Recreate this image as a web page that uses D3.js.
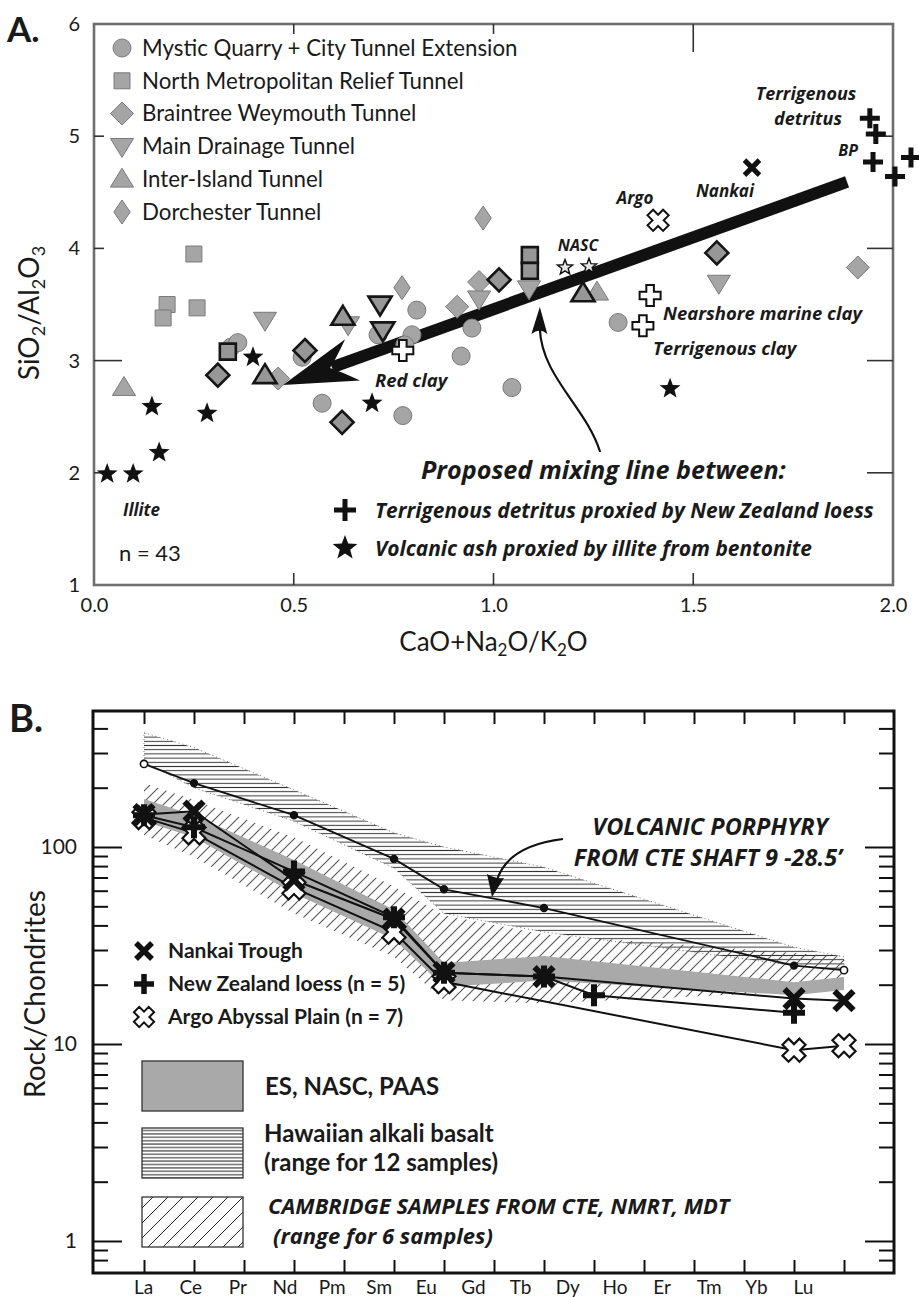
<!DOCTYPE html>
<html>
<head>
<meta charset="utf-8">
<script src="https://cdn.jsdelivr.net/npm/d3@7"></script>
<style>
  body { margin: 0; background: #fff; }
  text { font-family: Lato, "Open Sans", sans-serif; fill: #1a1a1a; }
  text.bi { font-family: "Open Sans", Lato, sans-serif; font-weight: bold; font-style: italic; }
</style>
</head>
<body>
<script>
// ---------- Panel A: [CaO+Na2O/K2O, SiO2/Al2O3] ----------
const mysticQuarry = [[0.343,3.12],[0.360,3.16],[0.521,3.03],[0.571,2.62],[0.711,3.23],[0.808,3.45],
  [0.773,2.51],[0.796,3.23],[0.778,3.14],[0.919,3.04],[0.946,3.29],[1.046,2.76],[1.312,3.34]];
const northMetro = [[0.250,3.95],[0.183,3.50],[0.173,3.38],[0.258,3.47]];
const northMetroOutlined = [[0.335,3.08],[1.091,3.94],[1.091,3.80]];
const braintree = [[0.461,2.84],[0.909,3.48],[0.964,3.70],[1.912,3.83]];
const braintreeOutlined = [[0.310,2.87],[0.528,3.09],[0.621,2.45],[1.014,3.72],[1.559,3.96]];
const mainDrainage = [[0.428,3.36],[0.636,3.32],[0.964,3.55],[1.089,3.64],[1.564,3.69]];
const mainDrainageOutlined = [[0.716,3.50],[0.723,3.27]];
const interIsland = [[0.075,2.76],[1.259,3.61]];
const interIslandOutlined = [[0.623,3.39],[0.428,2.87],[1.224,3.60]];
const dorchester = [[0.771,3.65],[0.974,4.27]];
const illiteAsh = [[0.033,1.99],[0.098,1.99],[0.163,2.18],[0.145,2.59],[0.283,2.53],[0.398,3.03],[0.696,2.62],[1.442,2.75]];
const nzLoessA = [[1.942,5.16],[1.957,5.02],[1.950,4.77],[2.005,4.64],[2.045,4.81]];
const nascA = [[1.179,3.83],[1.239,3.84]];
const clays = [[1.392,3.58],[1.374,3.31],[0.773,3.09]];
const nankaiA = [[1.647,4.72]];
const argoA = [[1.412,4.25]];
const mixingLine = [[1.885,4.592],[0.473,2.783]];
const siteNames = ["Mystic Quarry + City Tunnel Extension","North Metropolitan Relief Tunnel",
  "Braintree Weymouth Tunnel","Main Drainage Tunnel","Inter-Island Tunnel","Dorchester Tunnel"];
const xTicksA = [0, 0.5, 1, 1.5, 2];
const yTicksA = [1, 2, 3, 4, 5, 6];

// ---------- Panel B: rock / chondrite ----------
const ree = ["La","Ce","Pr","Nd","Pm","Sm","Eu","Gd","Tb","Dy","Ho","Er","Tm","Yb","Lu"];
const porphyry = [["La",264],["Ce",211],["Nd",145],["Sm",87],["Eu",61],["Tb",49],["Yb",25],["Lu",23.7]];
const nankai = [["La",146],["Ce",152],["Nd",68],["Sm",43],["Eu",23],["Tb",22],["Yb",17],["Lu",16.6]];
const nzLoess = [["La",145],["Ce",126],["Nd",75],["Sm",44],["Eu",23],["Tb",22],["Dy",17.7],["Yb",14.4]];
const argo = [["La",141],["Ce",118],["Nd",62],["Sm",37],["Eu",20.7],["Yb",9.3],["Lu",9.8]];
// [element, low, high]
const shaleBand = [["La",135,175],["Ce",112,145],["Nd",58,86],["Sm",34,48],["Eu",19.5,25.8],["Tb",21,28],["Yb",17.7,20.6],["Lu",18.8,21.9]];
const hawaiiBand = [["La",270,380],["Ce",200,320],["Nd",135,195],["Sm",78,118],["Eu",46,100],["Tb",37,79],["Yb",25,31],["Lu",23.7,27.7]];
const cambridgeBand = [["La",115,211],["Ce",89,173],["Nd",46,112],["Sm",27.7,63],["Eu",16.7,45],["Tb",16.1,36],["Yb",18.4,29],["Lu",18.8,27.7]];
const yMajorB = [1, 10, 100];
const yMinorB = [0.8,0.9,2,3,4,5,6,7,8,9,20,30,40,50,60,70,80,90,200,300,400];

const shape = {
  circle: r => `M${r},0A${r},${r} 0 1,1 ${-r},0A${r},${r} 0 1,1 ${r},0Z`,
  square: r => `M${-r},${-r}H${r}V${r}H${-r}Z`,
  diamond: r => `M0,${-r}L${r},0L0,${r}L${-r},0Z`,
  narrowDiamond: r => `M0,${-r}L${r*0.68},0L0,${r}L${-r*0.68},0Z`,
  triangle: r => `M0,${-r}L${r*1.05},${r*0.72}L${-r*1.05},${r*0.72}Z`,
  triangleDown: r => `M0,${r}L${r*1.05},${-r*0.72}L${-r*1.05},${-r*0.72}Z`,
  star: r => "M" + d3.range(10).map(i => {
      const a = -Math.PI / 2 + i * Math.PI / 5, rr = i % 2 ? r * 0.42 : r;
      return [rr * Math.cos(a), rr * Math.sin(a)];
    }).join("L") + "Z",
  openCross: r => { const w = r * 0.36;
    return `M${-w},${-r}H${w}V${-w}H${r}V${w}H${w}V${r}H${-w}V${w}H${-r}V${-w}H${-w}Z`; },
  plus: r => `M${-r},0H${r}M0,${-r}V${r}`,
  times: r => `M${-r},${-r}L${r},${r}M${r},${-r}L${-r},${r}`
};

const svg = d3.select("body").append("svg").attr("width", 919).attr("height", 1297);
const defs = svg.append("defs");

const hatchH = (id, step, col) => defs.append("pattern").attr("id", id)
  .attr("patternUnits", "userSpaceOnUse").attr("width", 8).attr("height", step)
  .append("line").attr("x1", 0).attr("x2", 8).attr("y1", step / 2).attr("y2", step / 2)
  .attr("stroke", col).attr("stroke-width", 1);
const hatchD = (id, step, col, w) => defs.append("pattern").attr("id", id)
  .attr("patternUnits", "userSpaceOnUse").attr("width", step).attr("height", step)
  .append("path")
  .attr("d", `M0,${step}L${step},0M${-step/2},${step/2}L${step/2},${-step/2}M${step/2},${step*1.5}L${step*1.5},${step/2}`)
  .attr("stroke", col).attr("stroke-width", w);
hatchH("hH", 4.2, "#333");
hatchH("hHL", 3.4, "#222");
hatchD("hD", 11, "#555", 1.1);
hatchD("hDL", 15, "#222", 1);

const marks = (g, data, x, y, kind, r, style) => g.append("g").selectAll("path")
  .data(data).join("path")
  .attr("transform", d => `translate(${x(d)},${y(d)})` + (style.rotate ? ` rotate(${style.rotate})` : ""))
  .attr("d", shape[kind](r))
  .attr("fill", style.fill || "none")
  .attr("stroke", style.stroke || "none")
  .attr("stroke-width", style.sw || 1);

// ================= Panel A =================
const xA = d3.scaleLinear().domain([0, 2]).range([94, 893]);
const yA = d3.scaleLinear().domain([1, 6]).range([585, 24]);
const gA = svg.append("g");
const px = d => xA(d[0]), py = d => yA(d[1]);

gA.append("rect").attr("x", 94).attr("y", 24).attr("width", 799).attr("height", 561)
  .attr("fill", "none").attr("stroke", "#6e6e6e").attr("stroke-width", 2.6);

const tickLine = (x1, y1, x2, y2) => gA.append("line").attr("x1", x1).attr("y1", y1)
  .attr("x2", x2).attr("y2", y2).attr("stroke", "#333").attr("stroke-width", 1.6);
[[0.5,10],[1,10],[1.5,28]].forEach(([v,l]) => tickLine(xA(v), 24, xA(v), 24 + l));
[[0.5,12],[1,12],[1.5,12]].forEach(([v,l]) => tickLine(xA(v), 585, xA(v), 585 - l));
[[5,10],[4,10],[3,28],[2,18]].forEach(([v,l]) => tickLine(94, yA(v), 94 + l, yA(v)));
[[5,20],[4,26],[3,26],[2,26]].forEach(([v,l]) => tickLine(893, yA(v), 893 - l, yA(v)));

const styleAxis = (g, font, size) => g.call(s => s.select(".domain").remove())
  .attr("font-family", font).attr("font-size", size)
  .call(s => s.selectAll("text").attr("fill", "#222"));

gA.append("g").attr("transform", "translate(94,0)")
  .call(d3.axisLeft(yA).tickValues(yTicksA).tickSize(0).tickPadding(14).tickFormat(d3.format("d")))
  .call(g => styleAxis(g, "Liberation Sans, Arial, sans-serif", 20));
gA.append("g").attr("transform", "translate(0,585)")
  .call(d3.axisBottom(xA).tickValues(xTicksA).tickSize(0).tickPadding(13).tickFormat(d3.format(".1f")))
  .call(g => styleAxis(g, "Liberation Sans, Arial, sans-serif", 20));

// axis titles
const yTitle = gA.append("text").attr("transform", "translate(39,313) rotate(-90)")
  .attr("text-anchor", "middle").attr("font-size", 28);
yTitle.append("tspan").text("SiO");
yTitle.append("tspan").attr("font-size", 18).attr("dy", 6).text("2");
yTitle.append("tspan").attr("dy", -6).text("/Al");
yTitle.append("tspan").attr("font-size", 18).attr("dy", 6).text("2");
yTitle.append("tspan").attr("dy", -6).text("O");
yTitle.append("tspan").attr("font-size", 18).attr("dy", 6).text("3");

const xTitle = gA.append("text").attr("x", xA(1)).attr("y", 651).attr("text-anchor", "middle").attr("font-size", 26);
xTitle.append("tspan").text("CaO+Na");
xTitle.append("tspan").attr("font-size", 17).attr("dy", 5).text("2");
xTitle.append("tspan").attr("dy", -5).text("O/K");
xTitle.append("tspan").attr("font-size", 17).attr("dy", 5).text("2");
xTitle.append("tspan").attr("dy", -5).text("O");

svg.append("text").attr("x", 7).attr("y", 42).attr("font-family", "Liberation Sans, Arial, sans-serif")
  .attr("font-weight", "bold").attr("font-size", 35).text("A.");

// mixing line with arrow head
const p0 = [xA(mixingLine[0][0]), yA(mixingLine[0][1])];
const tip = [xA(mixingLine[1][0]), yA(mixingLine[1][1])];
const len = Math.hypot(tip[0] - p0[0], tip[1] - p0[1]);
const u = [(tip[0] - p0[0]) / len, (tip[1] - p0[1]) / len], n = [-u[1], u[0]];
const at = (back, side) => [tip[0] - back * u[0] + side * n[0], tip[1] - back * u[1] + side * n[1]];
gA.append("line").attr("x1", p0[0]).attr("y1", p0[1]).attr("x2", at(52, 0)[0]).attr("y2", at(52, 0)[1])
  .attr("stroke", "#111").attr("stroke-width", 12);
gA.append("path").attr("fill", "#111")
  .attr("d", `M${tip}L${at(74, 22)}Q${at(58, 6)} ${at(50, 0)}Q${at(58, -6)} ${at(74, -22)}Z`);

// gray sample markers
const gray = { fill: "#a5a5a5", stroke: "#7a7a7a", sw: 1 };
const dark = { fill: "#979797", stroke: "#151515", sw: 2.6 };
marks(gA, mysticQuarry, px, py, "circle", 9, gray);
marks(gA, northMetro, px, py, "square", 8, gray);
marks(gA, northMetroOutlined, px, py, "square", 8, dark);
marks(gA, dorchester, px, py, "narrowDiamond", 12, gray);
marks(gA, braintree, px, py, "diamond", 11.5, gray);
marks(gA, braintreeOutlined, px, py, "diamond", 11.5, dark);
marks(gA, mainDrainage, px, py, "triangleDown", 11, gray);
marks(gA, mainDrainageOutlined, px, py, "triangleDown", 11, dark);
marks(gA, interIsland, px, py, "triangle", 11, gray);
marks(gA, interIslandOutlined, px, py, "triangle", 11, dark);
marks(gA, illiteAsh, px, py, "star", 11, { fill: "#111" });
marks(gA, nascA, px, py, "star", 8, { fill: "#e6e6e6", stroke: "#111", sw: 1.4 });
marks(gA, clays, px, py, "openCross", 10.5, { fill: "#fff", stroke: "#111", sw: 2 });
marks(gA, argoA, px, py, "openCross", 11, { fill: "#fff", stroke: "#111", sw: 2, rotate: 45 });
marks(gA, nankaiA, px, py, "times", 7.5, { stroke: "#111", sw: 5 });
marks(gA, nzLoessA, px, py, "plus", 10, { stroke: "#111", sw: 5 });

// curved arrow to the mixing line
const cTip = [xA(1.116), yA(3.478)], cStart = [xA(1.267), yA(2.185)];
gA.append("path").attr("fill", "none").attr("stroke", "#111").attr("stroke-width", 2.2)
  .attr("d", `M${cStart}C${cStart[0]-14},${cStart[1]-45} ${cTip[0]+2},${cTip[1]+70} ${cTip[0]},${cTip[1]+22}`);
gA.append("path").attr("fill", "#111")
  .attr("d", `M${cTip}L${cTip[0]+7.5},${cTip[1]+27}Q${cTip[0]},${cTip[1]+20} ${cTip[0]-8.5},${cTip[1]+27}Z`);

// legend of tunnels
const legendKinds = [["circle", 9], ["square", 8], ["diamond", 11.5], ["triangleDown", 11], ["triangle", 11], ["narrowDiamond", 12]];
const legA = gA.append("g").selectAll("g").data(siteNames).join("g")
  .attr("transform", (d, i) => `translate(122,${48 + i * 32.8})`);
legA.append("path").attr("d", (d, i) => shape[legendKinds[i][0]](legendKinds[i][1]))
  .attr("fill", gray.fill).attr("stroke", gray.stroke);
legA.append("text").attr("x", 20).attr("dy", "0.35em").attr("font-size", 22.3).text(d => d);

// annotations
const note = (x, y, t, anchor, size) => gA.append("text").attr("class", "bi").attr("x", x).attr("y", y)
  .attr("text-anchor", anchor || "start").attr("font-size", size || 17).text(t);
note(806, 100, "Terrigenous", "middle", 18);
note(808, 125, "detritus", "middle", 18);
note(858, 156, "BP", "end", 16);
note(725, 197, "Nankai", "middle", 17);
note(635, 204, "Argo", "middle", 17);
note(578, 251, "NASC", "middle", 16);
note(663, 320, "Nearshore marine clay", "start", 18.5);
note(653, 355, "Terrigenous clay", "start", 18.5);
note(375, 387, "Red clay", "start", 18.5);
note(123, 516, "Illite", "start", 17);
gA.append("text").attr("x", 119).attr("y", 561).attr("font-size", 22).text("n = 43");
note(421, 479, "Proposed mixing line between:", "start", 25.2);
gA.append("path").attr("transform", "translate(345,510)").attr("d", shape.plus(11)).attr("stroke", "#111").attr("stroke-width", 5);
gA.append("path").attr("transform", "translate(345,548)").attr("d", shape.star(13)).attr("fill", "#111");
note(375, 518, "Terrigenous detritus proxied by New Zealand loess", "start", 20.9);
note(375, 556, "Volcanic ash proxied by illite from bentonite", "start", 20.9);

// ================= Panel B =================
const xB = d3.scalePoint().domain(ree).range([144, 844]);
const xLab = d3.scalePoint().domain(ree).range([143, 803]);
const yB = d3.scaleLog().domain([1, 100]).range([1241, 847]);
const gB = svg.append("g");
const bx = d => xB(d[0]);

svg.append("text").attr("x", 9).attr("y", 732).attr("font-weight", "bold").attr("font-size", 38).text("B.");

const areaB = d3.area().x(bx).y0(d => yB(d[1])).y1(d => yB(d[2]));
gB.append("path").datum(hawaiiBand).attr("d", areaB).attr("fill", "url(#hH)")
  .attr("stroke", "#777").attr("stroke-width", 1).attr("stroke-dasharray", "1 3");
gB.append("path").datum(cambridgeBand).attr("d", areaB).attr("fill", "url(#hD)");
gB.append("path").datum(shaleBand).attr("d", areaB).attr("fill", "#a9a9a9");

const lineB = d3.line().x(bx).y(d => yB(d[1]));
[porphyry, argo, nzLoess, nankai].forEach((s, i) => gB.append("path").datum(s).attr("d", lineB)
  .attr("fill", "none").attr("stroke", "#111").attr("stroke-width", i ? 2 : 1.8));
const by = d => yB(d[1]);
gB.append("g").selectAll("circle").data(porphyry).join("circle")
  .attr("cx", bx).attr("cy", by).attr("r", (d, i) => i === 0 || i === porphyry.length - 1 ? 3.6 : 3.4)
  .attr("fill", (d, i) => i === 0 || i === porphyry.length - 1 ? "#fff" : "#111")
  .attr("stroke", "#111").attr("stroke-width", 1.6);
marks(gB, argo, bx, by, "openCross", 12, { fill: "#fff", stroke: "#111", sw: 2.2, rotate: 45 });
marks(gB, nzLoess, bx, by, "plus", 11, { stroke: "#111", sw: 6 });
marks(gB, nankai, bx, by, "times", 9.5, { stroke: "#111", sw: 6 });

// frame and ticks
gB.append("rect").attr("x", 93).attr("y", 711).attr("width", 801).attr("height", 562)
  .attr("fill", "none").attr("stroke", "#111").attr("stroke-width", 3);
const tickAxis = (axis, tr, size) => gB.append("g").attr("transform", tr)
  .call(axis.tickSize(size).tickFormat(""))
  .call(g => g.select(".domain").remove())
  .call(g => g.selectAll("line").attr("stroke", "#111").attr("stroke-width", 2));
tickAxis(d3.axisLeft(yB).tickValues(yMajorB), "translate(93,0)", -29);
tickAxis(d3.axisLeft(yB).tickValues(yMinorB), "translate(93,0)", -15);
tickAxis(d3.axisRight(yB).tickValues(yMajorB), "translate(894,0)", -29);
tickAxis(d3.axisRight(yB).tickValues(yMinorB), "translate(894,0)", -15);
tickAxis(d3.axisTop(xB), "translate(0,711)", -13);
tickAxis(d3.axisBottom(xB), "translate(0,1273)", -13);

gB.append("g").attr("transform", "translate(93,0)")
  .call(d3.axisLeft(yB).tickValues(yMajorB).tickSize(0).tickPadding(16).tickFormat(d3.format("d")))
  .call(g => styleAxis(g, "Lato, sans-serif", 21));
gB.append("g").attr("transform", "translate(0,1273)")
  .call(d3.axisBottom(xLab).tickSize(0).tickPadding(8))
  .call(g => styleAxis(g, "Lato, sans-serif", 19));

gB.append("text").attr("transform", "translate(45,994) rotate(-90)").attr("text-anchor", "middle")
  .attr("font-size", 28).text("Rock/Chondrites");

// porphyry callout
gB.append("text").attr("class", "bi").attr("x", 710).attr("y", 835).attr("text-anchor", "middle")
  .attr("font-size", 23.5).text("VOLCANIC PORPHYRY");
gB.append("text").attr("class", "bi").attr("x", 708).attr("y", 866).attr("text-anchor", "middle")
  .attr("font-size", 23.5).text("FROM CTE SHAFT 9 -28.5\u2019");
gB.append("path").attr("fill", "none").attr("stroke", "#111").attr("stroke-width", 2.2)
  .attr("d", "M563,839C530,843 505,855 497,880");
gB.append("path").attr("fill", "#111").attr("d", "M492,897L487,874Q495,879 504,878Z");

// legend B
const legB = [["times", "Nankai Trough"], ["plus", "New Zealand loess (n = 5)"], ["openX", "Argo Abyssal Plain (n = 7)"]];
legB.forEach(([k, t], i) => {
  const y = 951 + i * 33;
  const m = gB.append("path").attr("transform", `translate(144,${y})` + (k === "openX" ? " rotate(45)" : ""));
  if (k === "times") m.attr("d", shape.times(8)).attr("stroke", "#111").attr("stroke-width", 5.5);
  else if (k === "plus") m.attr("d", shape.plus(10)).attr("stroke", "#111").attr("stroke-width", 5.5);
  else m.attr("d", shape.openCross(10.5)).attr("fill", "#fff").attr("stroke", "#111").attr("stroke-width", 2);
  gB.append("text").attr("x", 168).attr("y", y).attr("dy", "0.35em").attr("font-size", 21)
    .attr("font-weight", "bold").text(t);
});
const boxes = [["#a9a9a9", 1061], ["url(#hHL)", 1128], ["url(#hDL)", 1197]];
boxes.forEach(([f, y]) => gB.append("rect").attr("x", 142).attr("y", y).attr("width", 101).attr("height", 50)
  .attr("fill", f).attr("stroke", "#333").attr("stroke-width", 1.3));
const legText = (x, y, t, italic) => gB.append("text").attr("class", italic ? "bi" : null)
  .attr("x", x).attr("y", y).attr("dy", "0.35em")
  .attr("font-size", italic ? 22 : 24).attr("font-weight", "bold").text(t);
legText(265, 1087, "ES, NASC, PAAS");
legText(264, 1134, "Hawaiian alkali basalt");
legText(264, 1163, "(range for 12 samples)");
legText(268, 1206, "CAMBRIDGE SAMPLES FROM CTE, NMRT, MDT", true);
legText(273, 1236, "(range for 6 samples)", true);
</script>
</body>
</html>
